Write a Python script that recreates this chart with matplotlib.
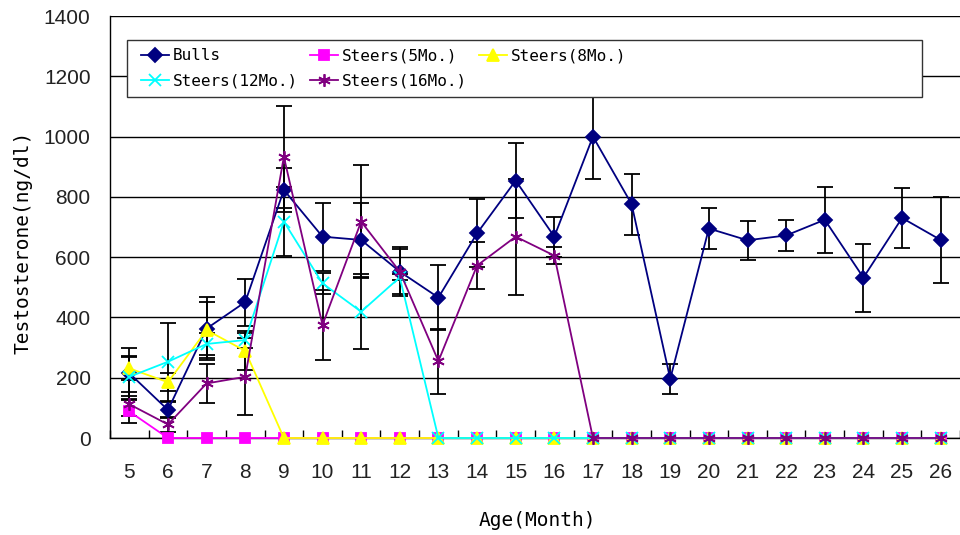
import matplotlib
matplotlib.use('Agg')
import matplotlib.pyplot as plt
from matplotlib.patches import Rectangle
import numpy as np

# ages in months
months = list(range(5, 27))

# mean testosterone (ng/dl)
bulls = [215, 93, 363, 451, 823, 668, 657, 552, 466, 679, 854, 668,
         1000, 776, 196, 695, 656, 672, 724, 532, 730, 657]
bulls_err = [85, 25, 105, 78, 72, 113, 124, 80, 108, 113, 124, 66,
             142, 101, 51, 68, 65, 50, 109, 113, 101, 142]

steers5 = [88] + [0] * 21
steers5_err = [37] + [0] * 21

steers8 = [231, 185, 358, 289] + [0] * 18
steers8_err = [40, 30, 92, 65] + [0] * 18

steers12 = [203, 253, 312, 325, 718, 513, 419, 533] + [0] * 14
steers12_err = [65, 130, 35, 25, 115, 36, 125, 10] + [0] * 14

steers16 = [112, 45, 181, 203, 933, 375, 718, 552, 255, 572, 668, 605] + [0] * 10
steers16_err = [40, 25, 65, 128, 170, 115, 188, 75, 108, 78, 192, 28] + [0] * 10

series = [
    ('Bulls', bulls, bulls_err, '#000080', 'D', 7),
    ('Steers(5Mo.)', steers5, steers5_err, '#FF00FF', 's', 7),
    ('Steers(8Mo.)', steers8, steers8_err, '#FFFF00', '^', 8),
    ('Steers(12Mo.)', steers12, steers12_err, '#00FFFF', 'x', 8),
    ('Steers(16Mo.)', steers16, steers16_err, '#800080', (6, 2, 0), 9),
]

W, H = 960, 535
fig = plt.figure(figsize=(9.6, 5.35), dpi=100)
ax = fig.add_axes([110 / W, (H - 438) / H, 850 / W, 422 / H])

x = np.array(months)
handles = {}
for i, (name, vals, errs, color, marker, ms) in enumerate(series):
    vals = np.array(vals, dtype=float)
    errs = np.array(errs, dtype=float)
    mask = errs > 0
    ax.errorbar(x[mask], vals[mask], yerr=errs[mask], fmt='none', ecolor='black',
                elinewidth=1.3, capsize=5.5, capthick=1.3, zorder=2)
    line, = ax.plot(x, vals, color=color, marker=marker, markersize=ms,
                    markerfacecolor=color, markeredgecolor=color,
                    markeredgewidth=1.3, linewidth=1.3, label=name, zorder=3 + i,
                    clip_on=False)
    handles[name] = line

ax.set_xlim(4.5, 4.5 + 850 / 38.92)
ax.set_ylim(0, 1400)
ax.set_yticks(range(0, 1401, 200))
ax.set_xticks(months)
ax.set_xticks(np.arange(4.5, 26.6, 1), minor=True)
ax.grid(axis='y', color='black', linewidth=1.0, zorder=1)
ax.set_axisbelow(True)

ax.tick_params(axis='x', which='major', length=0, pad=18)
ax.tick_params(axis='x', which='minor', length=6, direction='in', width=1, color='black')
ax.tick_params(axis='y', length=0, pad=14)
for lab in ax.get_xticklabels() + ax.get_yticklabels():
    lab.set_fontfamily('Liberation Sans')
    lab.set_fontsize(15)
    lab.set_color('#222222')

for s in ['top', 'right']:
    ax.spines[s].set_visible(False)
ax.spines['left'].set_linewidth(1.0)
ax.spines['bottom'].set_linewidth(1.0)

fig.text(537 / W, 1 - 520 / H, 'Age(Month)', family='DejaVu Sans Mono',
         fontsize=14, ha='center', va='center')
fig.text(23 / W, 1 - 242 / H, 'Testosterone(ng/dl)', family='DejaVu Sans Mono',
         fontsize=14, ha='center', va='center', rotation=90)

# legend frame drawn separately (wider than the entries)
frame = Rectangle((127 / W, 1 - 97 / H), (922 - 127) / W, (97 - 40) / H,
                  transform=fig.transFigure, facecolor='white', edgecolor='#333333',
                  linewidth=1.0, zorder=10)
fig.patches.append(frame)

order = ['Bulls', 'Steers(12Mo.)', 'Steers(5Mo.)', 'Steers(16Mo.)', 'Steers(8Mo.)']
leg = fig.legend([handles[n] for n in order], order, ncol=3, loc='upper left',
                 bbox_to_anchor=(138 / W, 1 - 45 / H), frameon=False,
                 prop={'family': 'DejaVu Sans Mono', 'size': 11.5},
                 handlelength=1.75, handletextpad=0.25, columnspacing=0.75,
                 labelspacing=0.65, borderaxespad=0, borderpad=0.2)
leg.set_zorder(11)

fig.savefig('out.png', dpi=100)
